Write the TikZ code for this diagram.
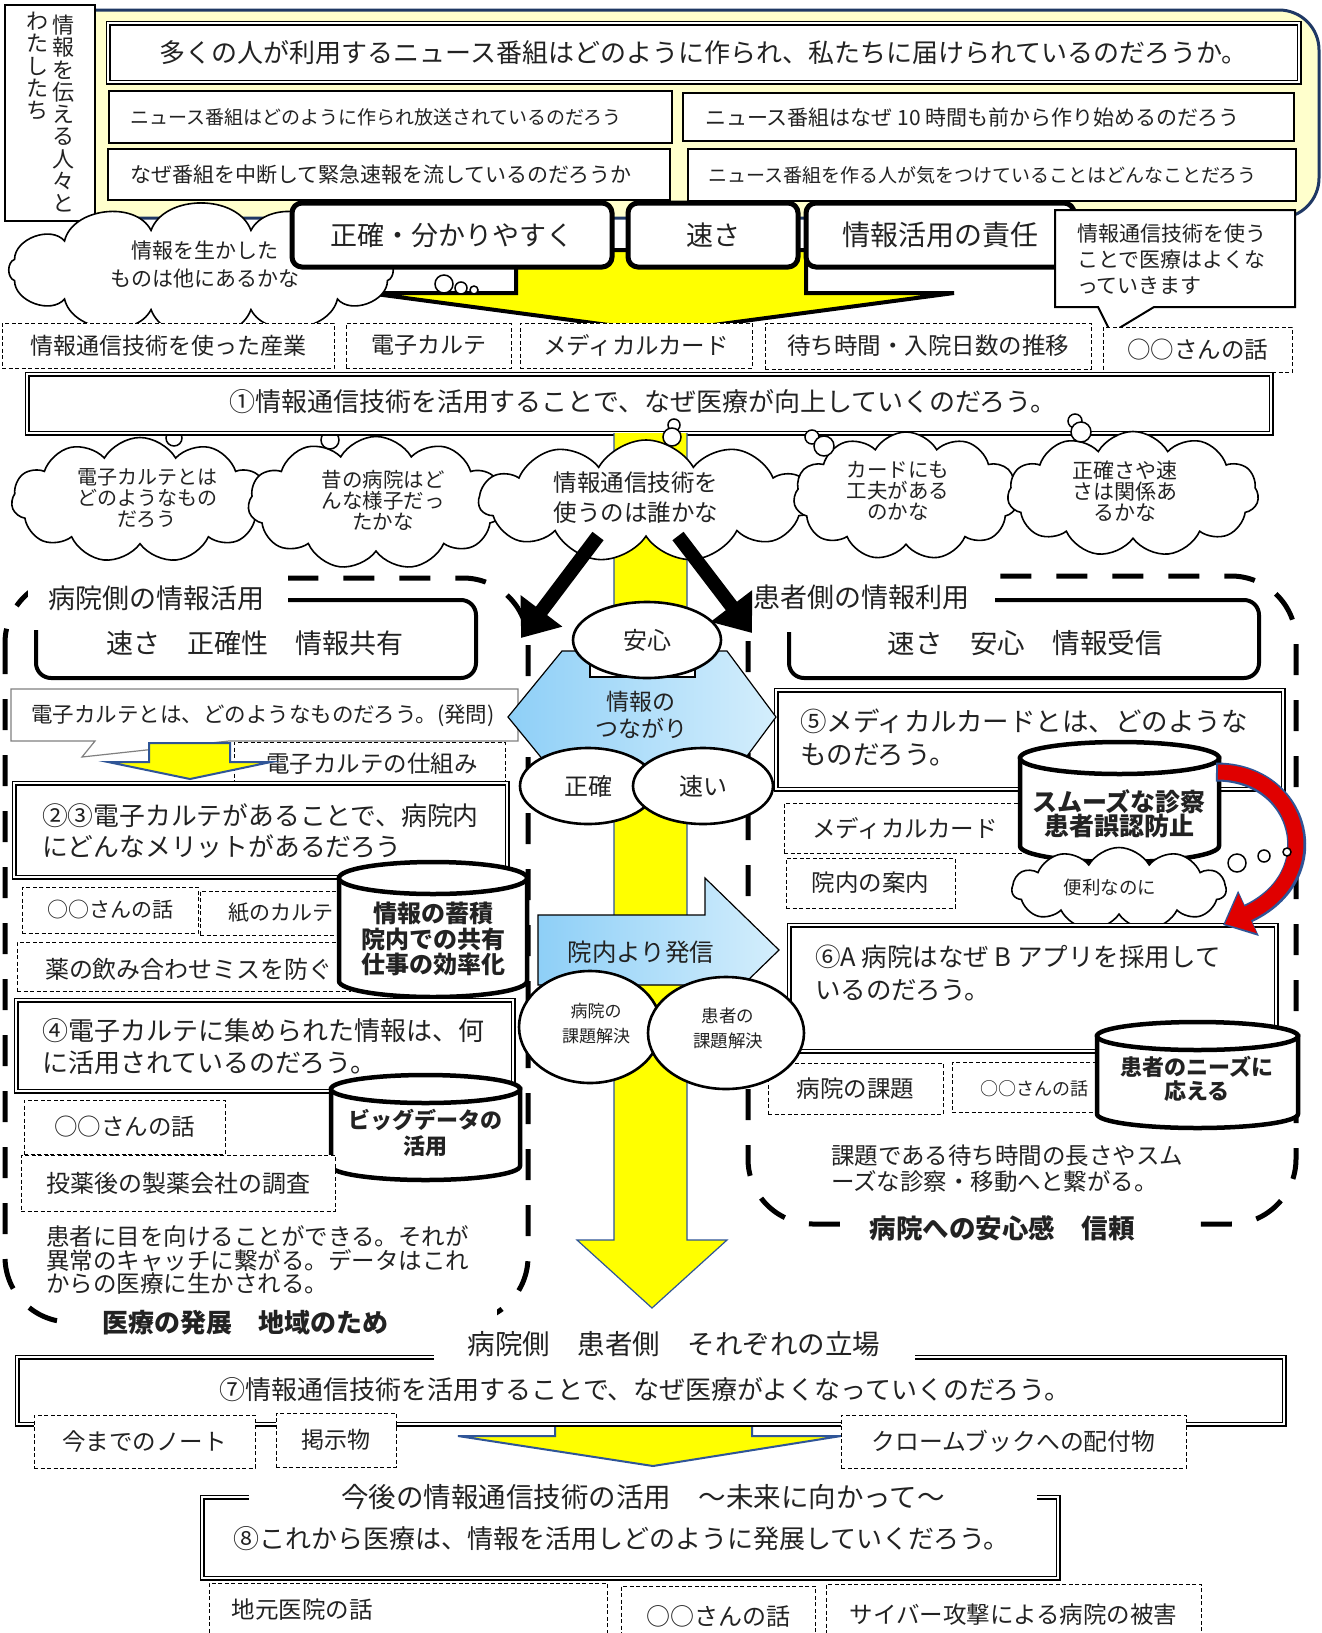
\documentclass[tikz,border=0pt]{standalone}
\usepackage{fontspec}
\setmainfont{Noto Sans CJK JP}
\usetikzlibrary{shapes.geometric,shapes.symbols,arrows.meta}
\newcommand{\fsz}[2]{\fontsize{#1pt}{#2pt}\selectfont}
\definecolor{ylw}{HTML}{FFFF00}
\definecolor{paley}{HTML}{FFFFCC}
\definecolor{navyb}{HTML}{1F3864}
\definecolor{bluel}{HTML}{2F5597}
\definecolor{skyA}{HTML}{8ECFF7}
\definecolor{skyB}{HTML}{D4EEFC}
\definecolor{redA}{HTML}{E00000}
\definecolor{txtc}{HTML}{222222}
\newcommand{\drawcyl}[5]{%
  \filldraw[cylb] (#1-#2,#3) -- (#1-#2,#4) arc[start angle=180,end angle=360,x radius=#2pt,y radius=#5pt] -- (#1+#2,#3) -- cycle;
  \filldraw[cylb] (#1,#3) ellipse[x radius=#2pt,y radius=#5pt];}
\tikzset{
  every node/.style={inner sep=0pt,outer sep=0pt,text=txtc},
  pbox/.style={draw,line width=1.2pt,fill=white},
  dbl/.style={draw,line width=1.3pt,double=white,double distance=2.4pt,fill=white},
  dsh/.style={draw,line width=1pt,dash pattern=on 4pt off 2.5pt,fill=white},
  tbox/.style={draw,line width=5pt,rounded corners=10pt,fill=white},
  region/.style={draw,line width=5pt,dash pattern=on 31pt off 25pt,rounded corners=65pt},
  cloudsh/.style={cloud,draw,fill=white,line width=1.6pt,cloud puffs=11,cloud puff arc=120,cloud ignores aspect},
  ell/.style={ellipse,draw,fill=white,line width=2.6pt},
  cylb/.style={draw,fill=white,line width=4.5pt},
  bub/.style={draw,fill=white,line width=1.5pt},
  yarrow/.style={draw=bluel,line width=1.6pt,fill=ylw,line join=miter},
  bigarr/.style={line width=14pt,-{Triangle[length=34pt,width=50pt]}},
}
\begin{document}
\begin{tikzpicture}[x=1pt,y=-1pt]
\useasboundingbox (0,0) rectangle (1322,1633);
\fill[white] (0,0) rectangle (1322,1633);

% ===== top area
\draw[navyb,line width=3pt,fill=paley,rounded corners=40pt] (40,10) rectangle (1319,218);
\node[pbox,minimum width=90pt,minimum height=216pt] (vbox) at (50,113) {};
\node[anchor=north,font=\fsz{22}{22.3},align=center] (vt1) at (63,15) {情\\報\\を\\伝\\え\\る\\人\\々\\と};
\node[anchor=north,font=\fsz{22}{22.3},align=center] (vt2) at (38,12) {わ\\た\\し\\た\\ち};

\node[dbl,minimum width=1191pt,minimum height=59pt,font=\fsz{26}{30}] (title) at (703.5,52.5) {多くの人が利用するニュース番組はどのように作られ、私たちに届けられているのだろうか。};

\node[pbox,minimum width=563pt,minimum height=52pt] (q1) at (390.5,117) {};
\node[anchor=west,font=\fsz{19}{22}] (q1t) at (130,117) {ニュース番組はどのように作られ放送されているのだろう};
\node[pbox,minimum width=611pt,minimum height=48pt] (q2) at (988.5,117) {};
\node[anchor=west,font=\fsz{21}{24}] (q2t) at (705,117) {ニュース番組はなぜ 10 時間も前から作り始めるのだろう};
\node[pbox,minimum width=562pt,minimum height=51pt] (q3) at (389,174.5) {};
\node[anchor=west,font=\fsz{21}{24}] (q3t) at (130,174.5) {なぜ番組を中断して緊急速報を流しているのだろうか};
\node[pbox,minimum width=608pt,minimum height=52pt] (q4) at (992,175) {};
\node[anchor=west,font=\fsz{19}{22}] (q4t) at (708,175) {ニュース番組を作る人が気をつけていることはどんなことだろう};

% top yellow arrow
\draw[line width=4pt,fill=ylw,line join=miter] (516,250) -- (516,293) -- (368,293) -- (661,332) -- (954,293) -- (806,293) -- (806,250) -- cycle;

% cloud C0 (drawn as puffs round an ellipse)
\coordinate (c0) at (201,270);
\draw[line width=1.6pt,fill=white] ({201+193*cos(15)},{270+41*sin(15)})
  \foreach \k in {1,...,12} { to[bend left=70] ({201+193*cos(15+30*\k)},{270+41*sin(15+30*\k)}) } -- cycle;
\node[font=\fsz{21}{28},align=center] (c0t) at (205,264) {情報を生かした\\ものは他にあるかな};
\draw[bub] (444,284) circle[radius=9pt];
\draw[bub] (461,288) circle[radius=6pt];
\draw[bub] (474,290) circle[radius=4pt];

% thick boxes
\node[tbox,minimum width=320pt,minimum height=64pt,font=\fsz{27}{30}] (b1) at (452,235) {正確・分かりやすく};
\node[tbox,minimum width=170pt,minimum height=64pt,font=\fsz{27}{30}] (b2) at (713,235) {速さ};
\node[tbox,minimum width=268pt,minimum height=64pt,font=\fsz{28}{30}] (b3) at (940,235) {情報活用の責任};

% callout
\draw[line width=2pt,fill=white,line join=miter] (1055,210) -- (1295,210) -- (1295,307) -- (1154,307) -- (1111,333) -- (1098,307) -- (1055,307) -- cycle;
\node[anchor=west,font=\fsz{21}{26},align=left] (cot) at (1077,259) {情報通信技術を使う\\ことで医療はよくな\\っていきます};

% dashed row
\node[dsh,minimum width=332pt,minimum height=45pt,font=\fsz{23}{26}] (r1) at (168,345.5) {情報通信技術を使った産業};
\node[dsh,minimum width=165pt,minimum height=45pt,font=\fsz{23}{26}] (r2) at (428.5,345.5) {電子カルテ};
\node[dsh,minimum width=232pt,minimum height=45pt,font=\fsz{23.5}{26}] (r3) at (636,345.5) {メディカルカード};
\node[dsh,minimum width=326pt,minimum height=46pt,font=\fsz{23.5}{26}] (r4) at (928,346) {待ち時間・入院日数の推移};
\node[dsh,minimum width=189pt,minimum height=45pt,font=\fsz{23.5}{26}] (r5) at (1197.5,349.5) {○○さんの話};

% bubbles under main box
\draw[bub] (174,438) circle[radius=8pt];
\draw[bub] (330,440) circle[radius=9pt];

% (1) main question
\node[dbl,minimum width=1244pt,minimum height=59pt] (m1) at (649,403.5) {};
\node[font=\fsz{26}{30}] (m1t) at (643,402) {①情報通信技術を活用することで、なぜ医療が向上していくのだろう。};

% central band
\draw[yarrow,line width=1.2pt] (614,433) -- (614,1240) -- (577,1240) -- (652,1308) -- (727,1240) -- (687,1240) -- (687,433);

% clouds
\node[cloudsh,minimum width=257pt,minimum height=125pt] (c1) at (140,500) {};
\node[font=\fsz{20}{21},align=center] (c1t) at (147,498) {電子カルテとは\\どのようなもの\\だろう};
\node[cloudsh,minimum width=256pt,minimum height=133pt] (c2) at (376,503) {};
\node[font=\fsz{20.5}{21},align=center] (c2t) at (383,500) {昔の病院はど\\んな様子だっ\\たかな};
\node[cloudsh,minimum width=334pt,minimum height=122pt] (c3) at (646,501) {};
\node[font=\fsz{23.5}{30},align=center] (c3t) at (636,498) {情報通信技術を\\使うのは誰かな};
\node[cloudsh,minimum width=225pt,minimum height=128pt] (c4) at (906,496) {};
\node[font=\fsz{20.5}{21},align=center] (c4t) at (898,491) {カードにも\\工夫がある\\のかな};
\node[cloudsh,minimum width=251pt,minimum height=125pt] (c5) at (1133,494) {};
\node[font=\fsz{21}{21},align=center] (c5t) at (1125,491) {正確さや速\\さは関係あ\\るかな};
\draw[bub] (674,425) circle[radius=6pt];
\draw[bub] (672,437) circle[radius=9pt];
\draw[bub] (812,437) circle[radius=7pt];
\draw[bub] (824,446) circle[radius=10pt];
\draw[bub] (1075,421) circle[radius=7pt];
\draw[bub] (1081,432) circle[radius=10pt];

% ===== regions
\draw[region] (5,578) rectangle (528,1322);
\draw[region] (748,576) rectangle (1296,1224);

\draw[line width=4pt,rounded corners=15pt,fill=white] (36,600) rectangle (476,678);
\node[font=\fsz{27}{30}] (lbt) at (255,643) {速さ　正確性　情報共有};
\draw[line width=4pt,rounded corners=15pt,fill=white] (789,600) rectangle (1259,678);
\node[font=\fsz{27.5}{30}] (rbt) at (1025,643) {速さ　安心　情報受信};

\fill[white] (28,566) rectangle (288,630);
\node[font=\fsz{27}{30}] (lt) at (156,598) {病院側の情報活用};
\fill[white] (742,566) rectangle (995,632);
\node[font=\fsz{27}{30}] (rt) at (861,597) {患者側の情報利用};

% ===== left column
\draw[gray,line width=1.2pt,fill=white,line join=miter] (11,689) -- (518,689) -- (518,741) -- (229,741) -- (82,757) -- (95,741) -- (11,741) -- cycle;
\node[font=\fsz{21.5}{26}] (lq) at (263,716) {電子カルテとは、どのようなものだろう。(発問)};
\node[dsh,minimum width=271pt,minimum height=44pt] (ls) at (369.5,764) {};
\node[font=\fsz{23.5}{26}] (lst) at (372,764) {電子カルテの仕組み};
\draw[yarrow,line width=2pt] (149,743) -- (230,743) -- (230,762) -- (271,762) -- (190,779) -- (108,762) -- (149,762) -- cycle;

\node[dbl,minimum width=493pt,minimum height=94pt] (q23) at (260.5,830) {};
\node[anchor=west,font=\fsz{25.8}{31},align=left] (q23t) at (42,831.5) {②③電子カルテがあることで、病院内\\にどんなメリットがあるだろう};

\node[dsh,minimum width=176pt,minimum height=46pt,font=\fsz{21}{24}] (l1) at (110,910) {○○さんの話};
\node[dsh,minimum width=150pt,minimum height=44pt] (l2) at (275,913) {};
\node[font=\fsz{21}{24}] (l2t) at (281,913) {紙のカルテ};
\node[dsh,minimum width=333pt,minimum height=49pt] (l3) at (183.5,966.5) {};
\node[font=\fsz{24}{26}] (l3t) at (189,969) {薬の飲み合わせミスを防ぐ};
\drawcyl{433}{94}{878}{981}{16}
\node[font=\bfseries\fsz{24}{25.5},align=center] (cy1) at (433,939) {情報の蓄積\\院内での共有\\仕事の効率化};

\node[dbl,minimum width=497pt,minimum height=91pt] (q4b) at (264.5,1045.5) {};
\node[anchor=west,font=\fsz{26}{32},align=left] (q4bt) at (42,1047) {④電子カルテに集められた情報は、何\\に活用されているのだろう。};
\drawcyl{425.5}{94.5}{1089}{1166}{14}
\node[font=\bfseries\fsz{22}{26},align=center] (cy2) at (425,1133) {ビッグデータの\\活用};
\node[dsh,minimum width=201pt,minimum height=54pt,font=\fsz{23.5}{26}] (l4) at (124.5,1127) {○○さんの話};
\node[dsh,minimum width=314pt,minimum height=56pt,font=\fsz{24}{26}] (l5) at (178,1183) {投薬後の製薬会社の調査};
\node[anchor=west,font=\fsz{23.5}{23.5},align=left] (lp) at (46,1260) {患者に目を向けることができる。それが\\異常のキャッチに繋がる。データはこれ\\からの医療に生かされる。};
\fill[white] (80,1302) rectangle (497,1346);
\node[font=\bfseries\fsz{26}{30}] (lb) at (245,1323) {医療の発展　地域のため};

% ===== right column
\node[dbl,minimum width=507pt,minimum height=99pt] (q5) at (1029.5,739.5) {};
\node[anchor=west,font=\fsz{26.5}{33},align=left] (q5t) at (800,738) {⑤メディカルカードとは、どのような\\ものだろう。};
\node[dsh,minimum width=238pt,minimum height=50pt] (r6) at (903,828) {};
\node[font=\fsz{23.5}{26}] (r6t) at (905,828) {メディカルカード};
\node[dsh,minimum width=169pt,minimum height=50pt,font=\fsz{23.5}{26}] (r7) at (870.5,883) {院内の案内};
\drawcyl{1119.5}{99.5}{758}{846}{16}
\node[font=\bfseries\fsz{25}{24},align=center] (cy3) at (1119,814) {スムーズな診察\\患者誤認防止};
\node[cloudsh,minimum width=214pt,minimum height=83pt] (c6) at (1119,889) {};
\node[font=\fsz{18.5}{22}] (c6t) at (1110,888) {便利なのに};

\node[dbl,minimum width=487pt,minimum height=126pt] (q6) at (1032.5,988) {};
\node[anchor=west,font=\fsz{25.5}{33},align=left] (q6t) at (815,973) {⑥A 病院はなぜ B アプリを採用して\\いるのだろう。};

\draw[bluel,line width=19pt,-{Triangle[length=28pt,width=48pt]}] (1216,772) .. controls (1302,772) and (1330,876) .. (1223,925);
\draw[redA,line width=15pt,-{Triangle[length=25pt,width=42pt]}] (1218,772) .. controls (1302,772) and (1328,876) .. (1225,924);
\draw[bub] (1237,863) circle[radius=9pt];
\draw[bub] (1264,856) circle[radius=6pt];
\draw[bub] (1287,852) circle[radius=4pt];

\node[dsh,minimum width=175pt,minimum height=51pt,font=\fsz{23.5}{26}] (r8) at (855.5,1088.5) {病院の課題};
\node[dsh,minimum width=148pt,minimum height=50pt] (r9) at (1026,1087) {};
\node[font=\fsz{18}{22}] (r9t) at (1034,1089) {○○さんの話};
\drawcyl{1197.5}{100.5}{1036}{1114}{14}
\node[font=\bfseries\fsz{22}{24},align=center] (cy4) at (1197,1079) {患者のニーズに\\応える};
\node[anchor=west,font=\fsz{23.5}{26},align=left] (rp) at (831,1169) {課題である待ち時間の長さやスム\\ーズな診察・移動へと繋がる。};
\fill[white] (850,1204) rectangle (1195,1250);
\node[font=\bfseries\fsz{26.5}{30}] (rb) at (1002,1228) {病院への安心感　信頼};

% ===== centre
\path[draw=black,line width=1.2pt,left color=skyA,right color=skyB] (508,717) -- (562,651) -- (727,651) -- (776,717) -- (727,783) -- (562,783) -- cycle;
\node[font=\fsz{23}{27},align=center] (hxt) at (641,715) {情報の\\つながり};
\draw[line width=1.5pt,fill=white] (590,655) rectangle (695,677);
\node[ell,minimum width=148pt,minimum height=76pt,font=\fsz{24}{28}] (e1) at (647,640) {安心};
\node[ell,minimum width=136pt,minimum height=76pt,font=\fsz{24}{28}] (e2) at (588,786) {正確};
\node[ell,minimum width=140pt,minimum height=76pt,font=\fsz{24}{28}] (e3) at (703,786) {速い};

\path[draw=black,line width=1.2pt,left color=skyA,right color=skyB] (538,915) -- (705,915) -- (705,878) -- (779,950) -- (705,1022) -- (705,985) -- (538,985) -- cycle;
\node[font=\fsz{24.5}{28}] (snd) at (641,952) {院内より発信};
\node[ell,minimum width=142pt,minimum height=112pt] (e4) at (590,1027) {};
\node[font=\fsz{17}{25},align=center] (e4t) at (596,1024) {病院の\\課題解決};
\node[ell,minimum width=156pt,minimum height=112pt] (e5) at (726,1033) {};
\node[font=\fsz{17.5}{25},align=center] (e5t) at (728,1028) {患者の\\課題解決};

% big black arrows
\coordinate (las) at (598,536);
\coordinate (lae) at (521,638);
\coordinate (ras) at (678,536);
\coordinate (rae) at (752,633);
\draw[bigarr] (las) -- (lae);
\draw[bigarr] (ras) -- (rae);

% ===== bottom
\draw[yarrow,line width=2pt] (555,1420) -- (555,1436) -- (458,1436) -- (653,1466) -- (841,1436) -- (752,1436) -- (752,1420) -- cycle;
\node[dbl,minimum width=1267pt,minimum height=67pt] (q7) at (650.5,1390.5) {};
\node[font=\fsz{26}{30}] (q7t) at (645,1390) {⑦情報通信技術を活用することで、なぜ医療がよくなっていくのだろう。};
\fill[white] (434,1328) rectangle (915,1366);
\node[font=\fsz{27.5}{30}] (pos) at (674,1344) {病院側　患者側　それぞれの立場};
\node[dsh,minimum width=221pt,minimum height=53pt,font=\fsz{23.5}{26}] (n1) at (144.5,1441.5) {今までのノート};
\node[dsh,minimum width=120pt,minimum height=54pt,font=\fsz{23}{26}] (n2) at (336,1440) {掲示物};
\node[dsh,minimum width=345pt,minimum height=53pt,font=\fsz{23.8}{26}] (n3) at (1013.5,1441.5) {クロームブックへの配付物};

\node[dbl,minimum width=856pt,minimum height=81pt] (q8) at (630,1537.5) {};
\fill[white] (249,1478) rectangle (1037,1516);
\node[font=\fsz{27.5}{30}] (fut) at (643,1497) {今後の情報通信技術の活用　～未来に向かって～};
\node[font=\fsz{26}{30}] (q8t) at (621.5,1539) {⑧これから医療は、情報を活用しどのように発展していくだろう。};

\node[dsh,minimum width=398pt,minimum height=62pt] (z1) at (408,1614) {};
\node[font=\fsz{23.5}{26}] (z1t) at (302,1610) {地元医院の話};
\node[dsh,minimum width=194pt,minimum height=60pt,font=\fsz{24}{26}] (z2) at (718,1616) {○○さんの話};
\node[dsh,minimum width=375pt,minimum height=62pt,font=\fsz{23.5}{26}] (z3) at (1013.5,1615) {サイバー攻撃による病院の被害};
\end{tikzpicture}
\end{document}
